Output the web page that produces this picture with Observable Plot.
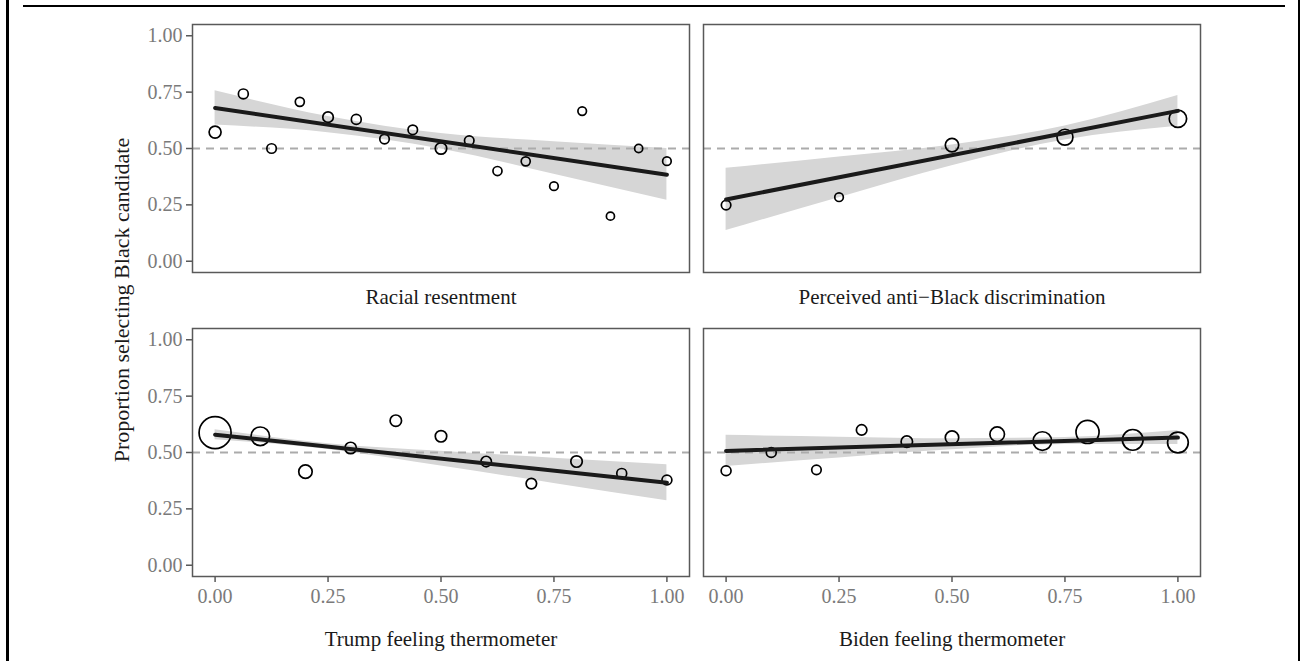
<!DOCTYPE html>
<html>
<head>
<meta charset="utf-8">
<script src="https://cdn.jsdelivr.net/npm/d3@7"></script>
<script src="https://cdn.jsdelivr.net/npm/@observablehq/plot@0.6"></script>
<style>
html, body { margin: 0; padding: 0; background: #fff; }
#wrap { position: relative; width: 1300px; height: 661px; overflow: hidden; font-family: "Liberation Serif", "Times New Roman", serif; }
.bl { position: absolute; background: #000; }
#ylab { position: absolute; left: 122px; top: 300px; transform: translate(-50%, -50%) rotate(-90deg); white-space: nowrap; font-size: 22px; color: #1a1a1a; }
</style>
</head>
<body>
<div id="wrap">
  <div id="chart"></div>
  <div class="bl" style="left:6px;top:0;width:2.5px;height:661px"></div>
  <div class="bl" style="left:1297.5px;top:0;width:2.5px;height:661px"></div>
  <div class="bl" style="left:23px;top:4.5px;width:1262px;height:2.5px"></div>
  <div id="ylab">Proportion selecting Black candidate</div>
</div>
<script>
// Panels (facets)
const panelNames = ["Racial resentment", "Perceived anti\u2212Black discrimination", "Trump feeling thermometer", "Biden feeling thermometer"];
const panelCol = [0, 1, 0, 1];
const panelRow = [0, 0, 1, 1];

// Binned observations: x value, proportion selecting Black candidate, count
const rrX = [0, 0.0625, 0.125, 0.1875, 0.25, 0.3125, 0.375, 0.4375, 0.5, 0.5625, 0.625, 0.6875, 0.75, 0.8125, 0.875, 0.9375, 1];
const rrY = [0.573, 0.742, 0.500, 0.707, 0.639, 0.629, 0.542, 0.583, 0.500, 0.535, 0.400, 0.443, 0.333, 0.666, 0.200, 0.500, 0.444];
const rrN = [35, 24, 22, 20, 27, 24, 22, 22, 32, 22, 20, 20, 18, 18, 16, 16, 18];

const padX = [0, 0.25, 0.5, 0.75, 1];
const padY = [0.249, 0.284, 0.515, 0.550, 0.632];
const padN = [22, 18, 44, 62, 74];

const trumpX = [0, 0.1, 0.2, 0.3, 0.4, 0.5, 0.6, 0.7, 0.8, 0.9, 1];
const trumpY = [0.588, 0.572, 0.415, 0.520, 0.641, 0.572, 0.460, 0.362, 0.460, 0.407, 0.378];
const trumpN = [250, 84, 44, 32, 32, 32, 27, 27, 32, 24, 24];

const bidenX = [0, 0.1, 0.2, 0.3, 0.4, 0.5, 0.6, 0.7, 0.8, 0.9, 1];
const bidenY = [0.419, 0.500, 0.423, 0.600, 0.548, 0.566, 0.581, 0.551, 0.591, 0.556, 0.544];
const bidenN = [24, 24, 22, 27, 32, 44, 52, 84, 130, 105, 105];

// Fitted lines (value at x = 0 and x = 1) per panel
const fitX = [0, 1];
const fitStart = [0.680, 0.274, 0.579, 0.507];
const fitEnd = [0.384, 0.667, 0.366, 0.566];

// Confidence bands read at these x values
const bandX = [0, 0.25, 0.5, 0.75, 1];
const rrLo = [0.604, 0.570, 0.498, 0.386, 0.270];
const rrHi = [0.756, 0.642, 0.566, 0.530, 0.500];
const padLo = [0.136, 0.282, 0.424, 0.538, 0.599];
const padHi = [0.412, 0.462, 0.516, 0.600, 0.735];
const trumpLo = [0.557, 0.513, 0.440, 0.363, 0.286];
const trumpHi = [0.601, 0.539, 0.505, 0.475, 0.446];
const bidenLo = [0.438, 0.476, 0.512, 0.536, 0.535];
const bidenHi = [0.576, 0.568, 0.561, 0.567, 0.598];

// Tick values
const tickValues = [0, 0.25, 0.5, 0.75, 1];
const refLine = [0.5];

// Build tidy tables
const pointSets = [[rrX, rrY, rrN], [padX, padY, padN], [trumpX, trumpY, trumpN], [bidenX, bidenY, bidenN]];
const bandSets = [[rrLo, rrHi], [padLo, padHi], [trumpLo, trumpHi], [bidenLo, bidenHi]];

const points = [], bands = [], fits = [], labels = [];
panelNames.forEach((name, i) => {
  const [xs, ys, ns] = pointSets[i];
  xs.forEach((x, j) => points.push({col: panelCol[i], row: panelRow[i], x, y: ys[j], n: ns[j]}));
  bandX.forEach((x, j) => bands.push({col: panelCol[i], row: panelRow[i], x, lo: bandSets[i][0][j], hi: bandSets[i][1][j]}));
  fits.push({col: panelCol[i], row: panelRow[i], x: fitX[0], y: fitStart[i], p: i});
  fits.push({col: panelCol[i], row: panelRow[i], x: fitX[1], y: fitEnd[i], p: i});
  labels.push({col: panelCol[i], row: panelRow[i], name});
});
const topLabels = labels.filter(d => d.row === 0);
const bottomLabels = labels.filter(d => d.row === 1);

const fmt = d3.format(".2f");

const chart = Plot.plot({
  width: 1300,
  height: 661,
  marginTop: 24.3,
  marginBottom: 84.3,
  marginLeft: 191,
  marginRight: 100,
  style: {fontFamily: "'Liberation Serif', 'Times New Roman', serif", fontSize: "20px", background: "transparent"},
  x: {domain: [-0.05, 1.05]},
  y: {domain: [-0.05, 1.05]},
  fx: {domain: [0, 1], paddingInner: 0.028, paddingOuter: 0, axis: null},
  fy: {domain: [0, 1], paddingInner: 0.183, paddingOuter: 0, axis: null},
  r: {domain: [0, 250], range: [0, 16]},
  marks: [
    Plot.areaY(bands, {fx: "col", fy: "row", x: "x", y1: "lo", y2: "hi", fill: "#d6d6d6", curve: "monotone-x"}),
    Plot.ruleY(refLine, {stroke: "#ababab", strokeWidth: 2, strokeDasharray: "8,6"}),
    Plot.dot(points, {fx: "col", fy: "row", x: "x", y: "y", r: "n", stroke: "#000", strokeWidth: 1.7, fill: "none"}),
    Plot.line(fits, {fx: "col", fy: "row", x: "x", y: "y", z: "p", stroke: "#1a1a1a", strokeWidth: 4}),
    Plot.frame({stroke: "#595959", strokeWidth: 1.5}),
    Plot.axisY({ticks: tickValues, tickFormat: fmt, tickSize: 6, tickPadding: 4, stroke: "#595959", strokeWidth: 1.5, fill: "#7a7a7a", fontSize: 20, label: null}),
    Plot.axisX({ticks: tickValues, tickFormat: fmt, tickSize: 6, tickPadding: 6, stroke: "#595959", strokeWidth: 1.5, fill: "#7a7a7a", fontSize: 20, label: null}),
    Plot.text(topLabels, {fx: "col", fy: "row", text: "name", frameAnchor: "bottom", dy: 25, lineAnchor: "middle", fontSize: 21, fill: "#1a1a1a"}),
    Plot.text(bottomLabels, {fx: "col", fy: "row", text: "name", frameAnchor: "bottom", dy: 63, lineAnchor: "middle", fontSize: 21, fill: "#1a1a1a"})
  ]
});
document.getElementById("chart").appendChild(chart);
</script>
</body>
</html>
